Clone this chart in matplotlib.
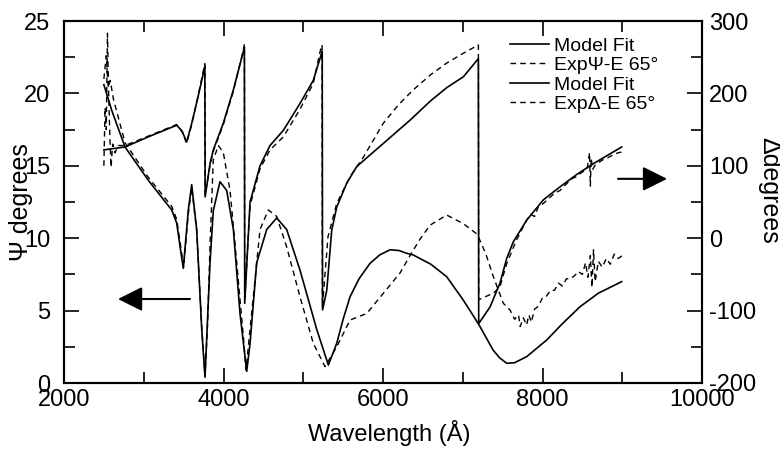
import matplotlib
matplotlib.use("Agg")
import matplotlib.pyplot as plt
from matplotlib.ticker import MultipleLocator

plt.rcParams['font.family'] = ['Liberation Sans', 'DejaVu Sans']
plt.rcParams['axes.unicode_minus'] = False

# Psi model fit (left axis)
psi_fit_wl = [2500, 2600, 2765, 3057, 3351, 3413, 3467, 3496, 3559, 3601, 3664, 3727, 3768,
              3831, 3872, 3956, 4040, 4124, 4207, 4291, 4333, 4416, 4542, 4667, 4792, 4959,
              5169, 5315, 5420, 5500, 5587, 5700, 5837, 5960, 6088, 6200, 6297, 6380, 6600,
              6799, 7006, 7120, 7217, 7380, 7460, 7551, 7650, 7719, 7802, 8053, 8250, 8471,
              8700, 8993]
psi_fit = [20.6, 18.8, 16.3, 14.0, 11.95, 11.05, 8.98, 7.92, 11.95, 13.7, 10.6, 3.7, 0.4,
           8.3, 11.9, 13.9, 13.3, 10.6, 4.8, 0.8, 2.74, 8.3, 10.6, 11.4, 10.6, 7.8,
           3.7, 1.24, 2.74, 4.4, 5.96, 7.2, 8.26, 8.85, 9.2, 9.15, 8.96, 8.84, 8.2,
           7.34, 5.73, 4.75, 3.89, 2.28, 1.75, 1.36, 1.4, 1.59, 1.82, 2.97, 4.1, 5.27,
           6.2, 7.0]

# Psi experiment (left axis)
psi_exp_wl = [2500, 2530, 2555, 2580, 2620, 2765, 3057, 3351, 3413, 3467, 3500, 3559, 3601,
              3664, 3727, 3768, 3800, 3831, 3872, 3935, 3998, 4082, 4166, 4249, 4282, 4374,
              4458, 4562, 4667, 4792, 4959, 5126, 5273, 5420, 5587, 5796, 6005, 6214, 6339,
              6460, 6590, 6799, 7008, 7175, 7196, 7290, 7384, 7509, 7593,
              7650, 7700, 7720, 7760, 7800, 7830, 7860, 7900, 7950, 8000, 8050, 8100, 8150,
              8200, 8250, 8300, 8350, 8400, 8450, 8500, 8540, 8570, 8600, 8620, 8640, 8660,
              8700, 8750, 8800, 8850, 8900, 8950, 9000]
psi_exp = [21.0, 22.6, 20.4, 20.9, 19.6, 16.6, 14.2, 12.2, 11.3, 9.3, 8.0, 11.7, 13.5,
           10.5, 3.9, 0.5, 4.0, 9.5, 15.4, 16.4, 15.9, 13.3, 8.3, 3.2, 0.9, 5.96,
           10.6, 11.95, 11.5, 9.4, 5.96, 2.74, 1.13, 2.5, 4.35, 4.8, 6.2, 7.6, 8.8,
           9.9, 10.9, 11.6, 11.0, 10.3, 10.1, 8.9, 7.34, 5.5, 5.04,
           4.4, 4.7, 3.9, 4.5, 4.0, 4.7, 4.2, 5.1, 5.3, 5.9, 6.0, 6.4, 6.4,
           6.9, 6.7, 7.2, 7.2, 7.4, 7.7, 7.5, 8.3, 7.3, 8.8, 6.6, 9.2, 7.0,
           8.4, 8.0, 8.6, 8.2, 8.9, 8.6, 8.8]

# Delta model fit (right axis)
delta_fit_wl = [2500, 2765, 3057, 3413, 3480, 3538, 3600, 3680, 3756, 3766, 3770, 3831, 3872,
                3998, 4124, 4249, 4262, 4266, 4333, 4458, 4583, 4751, 4959, 5126, 5223, 5238,
                5242, 5295, 5357, 5420, 5545, 5671, 6005, 6339, 6600, 6800, 7008, 7196, 7200,
                7342, 7467, 7551, 7634, 7802, 8011, 8220, 8429, 8638, 8993]
delta_fit = [122, 126, 140, 156, 148, 133, 158, 195, 232, 238, 57, 103, 122,
             159, 205, 258, 264, -90, 50, 100, 128, 149, 186, 218, 253, 258,
             -99, -72, 11, 43, 76, 99, 131, 163, 190, 208, 223, 248, -118,
             -95, -62, -28, -5, 25, 53, 71, 88, 103, 126]

# Delta experiment (right axis)
delta_exp_wl = [2500, 2515, 2530, 2545, 2560, 2575, 2590, 2610, 2640, 2680, 2765, 3057, 3413,
                3480, 3538, 3600, 3680, 3756, 3766, 3770, 3831, 3872, 3998, 4124, 4249, 4262,
                4266, 4333, 4458, 4583, 4751, 4959, 5126, 5220, 5236, 5240, 5310, 5420, 5587,
                5754, 6005, 6200, 6380, 6600, 6800, 7000, 7196, 7200, 7300, 7384, 7467, 7551,
                7676, 7700, 7740, 7780, 7802, 7850, 7900, 7950, 8011, 8050, 8100, 8150, 8220,
                8280, 8330, 8380, 8429, 8470, 8520, 8560, 8590, 8600, 8610, 8630, 8660, 8700,
                8750, 8800, 8850, 8900, 8950, 8993]
delta_exp = [100, 180, 150, 283, 200, 140, 98, 130, 118, 128, 128, 141, 157,
             147, 131, 156, 196, 236, 241, 60, 100, 120, 157, 203, 260, 268,
             -85, 45, 96, 122, 140, 178, 214, 262, 267, -95, 2, 48, 85,
             112, 159, 185, 205, 226, 242, 255, 267, -85, -80, -76, -67, -35,
             -2, 3, 12, 20, 25, 33, 30, 44, 48, 52, 57, 62, 66,
             73, 78, 83, 85, 89, 93, 96, 118, 72, 110, 95, 101, 104,
             108, 110, 113, 116, 118, 119]

dash = (0, (4, 3))

fig, ax = plt.subplots(figsize=(7.8, 4.49), dpi=100)
fig.subplots_adjust(left=64/780, right=702/780, bottom=1-383/449, top=1-21/449)
ax2 = ax.twinx()

l1, = ax.plot(psi_fit_wl, psi_fit, color='k', lw=1.2)
l2, = ax.plot(psi_exp_wl, psi_exp, color='k', lw=1.0, ls=dash)
l3, = ax2.plot(delta_fit_wl, delta_fit, color='k', lw=1.2)
l4, = ax2.plot(delta_exp_wl, delta_exp, color='k', lw=1.0, ls=dash)

ax.set_xlim(2000, 10000)
ax.set_ylim(0, 25)
ax2.set_ylim(-200, 300)

ax.xaxis.set_major_locator(MultipleLocator(2000))
ax.xaxis.set_minor_locator(MultipleLocator(1000))
ax.yaxis.set_major_locator(MultipleLocator(5))
ax.yaxis.set_minor_locator(MultipleLocator(2.5))
ax2.yaxis.set_major_locator(MultipleLocator(100))
ax2.yaxis.set_minor_locator(MultipleLocator(50))

ax.tick_params(axis='x', which='both', direction='in', top=True, labelsize=17, pad=4, width=1.2)
ax.tick_params(axis='y', which='both', direction='in', right=False, labelsize=17, pad=10, width=1.2)
ax2.tick_params(axis='y', which='both', direction='in', labelsize=17, pad=5, width=1.2)
for a in (ax, ax2):
    a.tick_params(which='major', length=11)
    a.tick_params(which='minor', length=8)
    for s in a.spines.values():
        s.set_linewidth(1.5)

ax.set_xlabel('Wavelength (Å)', fontsize=17, va='center')
ax.xaxis.set_label_coords(0.51, -0.138)
ax.set_ylabel('Ψ degrees', fontsize=18, va='center')
ax.yaxis.set_label_coords(-0.068, 0.5)
ax2.set_ylabel('Δdegrees', fontsize=18, rotation=-90, va='center')
ax2.yaxis.set_label_coords(1.105, 0.533)

arrow = dict(arrowstyle='-|>,head_length=0.6,head_width=0.3', mutation_scale=25,
             lw=1.5, color='k', shrinkA=0, shrinkB=0)
ax.annotate('', xy=(2677, 5.8), xytext=(3580, 5.8), arrowprops=arrow)
ax2.annotate('', xy=(9562, 82), xytext=(8947, 82), arrowprops=arrow)

ax2.legend([l1, l2, l3, l4], ['Model Fit', 'ExpΨ-E 65°', 'Model Fit', 'ExpΔ-E 65°'],
           loc='upper left', bbox_to_anchor=(0.699, 0.956), frameon=False, fontsize=14,
           handlelength=2.0, handletextpad=0.25, labelspacing=0.1,
           borderpad=0, borderaxespad=0)

fig.savefig('out.png', dpi=100)
